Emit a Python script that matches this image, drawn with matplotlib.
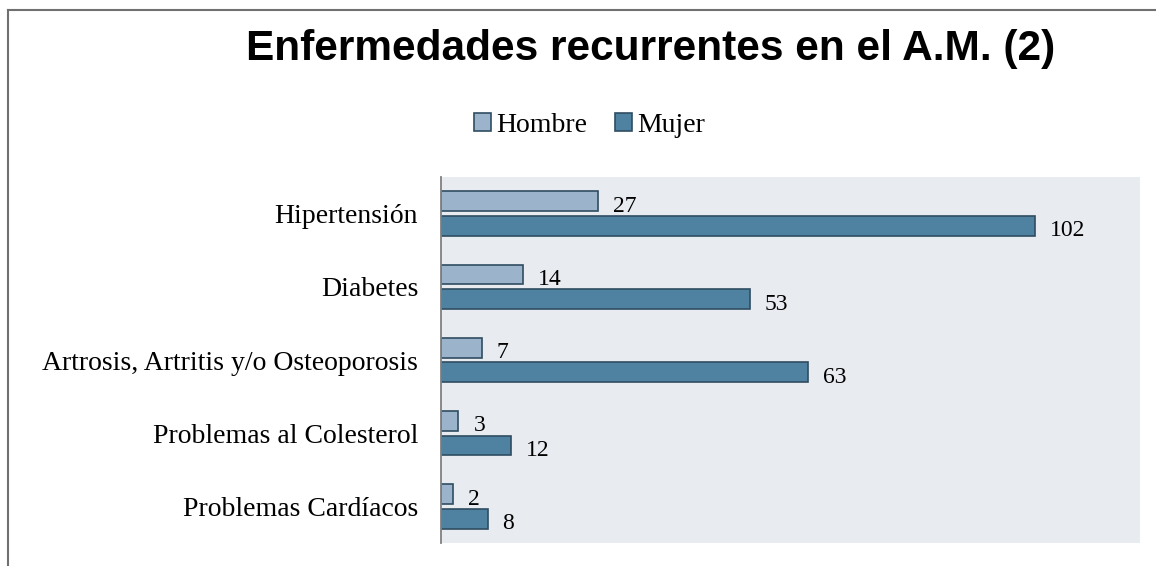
import matplotlib.pyplot as plt
import numpy as np
from matplotlib.lines import Line2D
from matplotlib.patches import Patch

categorias = ["Hipertensión", "Diabetes", "Artrosis, Artritis y/o Osteoporosis",
              "Problemas al Colesterol", "Problemas Cardíacos"]
hombre = [27, 14, 7, 3, 2]
mujer = [102, 53, 63, 12, 8]

c_hombre = "#9bb4cb"
c_mujer = "#4f81a1"
c_borde = "#2f4d62"
serif = ["Liberation Serif", "DejaVu Serif"]

fig = plt.figure(figsize=(11.56, 5.66), dpi=100)
ax = fig.add_axes([441 / 1156, 23 / 566, 699 / 1156, 366 / 566])
ax.set_facecolor("#e8ebf0")

y = np.arange(len(categorias))
h = 0.27
b1 = ax.barh(y - 0.167, hombre, height=h, color=c_hombre, edgecolor=c_borde, linewidth=1.2)
b2 = ax.barh(y + 0.167, mujer, height=h, color=c_mujer, edgecolor=c_borde, linewidth=1.2)

# etiquetas de datos
for barras, vals in [(b1, hombre), (b2, mujer)]:
    for r, v in zip(barras, vals):
        ax.annotate(str(v), (r.get_width(), r.get_y() + r.get_height() / 2),
                    xytext=(15, -5), textcoords="offset pixels",
                    ha="left", va="center", fontsize=17, family=serif)

ax.set_xlim(0, 120)
ax.set_ylim(len(categorias) - 0.5, -0.5)
ax.set_yticks(y)
ax.set_yticklabels(categorias, family=serif, fontsize=20)
ax.tick_params(axis="y", length=0, pad=16.5)
ax.set_xticks([])
for s in ["top", "right", "bottom"]:
    ax.spines[s].set_visible(False)
ax.spines["left"].set_color("#808080")
ax.spines["left"].set_linewidth(1.3)

fig.text(0.563, 0.913, "Enfermedades recurrentes en el A.M. (2)", ha="center", va="center",
         fontsize=30.5, fontweight="bold", family=["Liberation Sans", "DejaVu Sans"])

handles = [Patch(facecolor=c_hombre, edgecolor=c_borde, linewidth=1.2, label="Hombre"),
           Patch(facecolor=c_mujer, edgecolor=c_borde, linewidth=1.2, label="Mujer")]
fig.legend(handles=handles, loc="center", bbox_to_anchor=(0.51, 0.779), ncol=2, frameon=False,
           prop={"family": serif, "size": 20}, handlelength=0.6, handleheight=0.6,
           handletextpad=0.2, columnspacing=1.0)

# marco
fig.add_artist(Line2D([8 / 1156, 1], [1 - 10 / 566, 1 - 10 / 566], color="#707070", linewidth=1.5))
fig.add_artist(Line2D([8 / 1156, 8 / 1156], [0, 1 - 10 / 566], color="#707070", linewidth=1.5))

fig.savefig("out.png", dpi=100)
